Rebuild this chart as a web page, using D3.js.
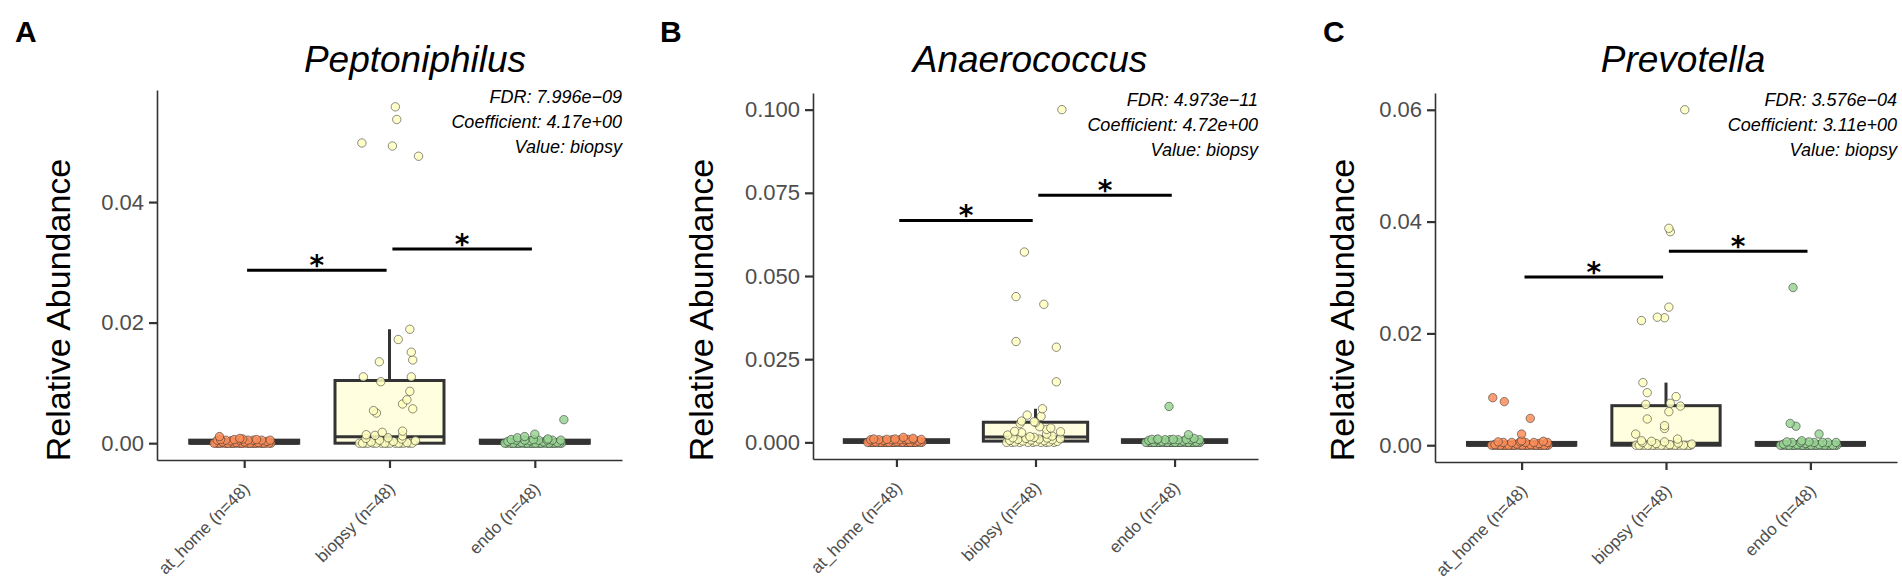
<!DOCTYPE html>
<html>
<head>
<meta charset="utf-8">
<script src="https://cdn.jsdelivr.net/npm/d3@7"></script>
<style>
  body { margin: 0; background: #fff; }
  svg { display: block; font-family: 'Liberation Sans', Arial, Helvetica, sans-serif; }
</style>
</head>
<body>
<svg id="chart" width="1902" height="587"></svg>
<script>
// groups shared by the three panels
const groups      = ['at_home', 'biopsy', 'endo'];
const groupColors = ['#FC8D59', '#FFFFBF', '#99D594'];

// Peptoniphilus relative abundance (48 samples per group)
const peptAtHome = [0.0011, 0.0008, 0.0007, 0.0006, 0.0006, 0.0006, 0.0005, 0.0005, 0.0005, 0.0005,
  0.0005, 0.0005, 0.0005, 0.0004, 0.0003, 0.0002, 0.0002, 0.0001, 0.0001, 0,
  0, 0, 0, 0, 0, 0, 0, 0, 0, 0,
  0, 0, 0, 0, 0, 0, 0, 0, 0, 0,
  0, 0, 0, 0, 0, 0, 0, 0];
const peptBiopsy = [0.0558, 0.0537, 0.0498, 0.0493, 0.0476, 0.0189, 0.0172, 0.0151, 0.0138, 0.0135,
  0.0110, 0.0110, 0.0102, 0.0086, 0.0072, 0.0065, 0.0057, 0.0054, 0.0050, 0.0020,
  0.0018, 0.0014, 0.0013, 0.0012, 0.0009, 0.0008, 0.0007, 0.0005, 0.0004, 0.0003,
  0.0002, 0.0001, 0, 0, 0, 0, 0, 0, 0, 0,
  0, 0, 0, 0, 0, 0, 0, 0];
const peptEndo = [0.0039, 0.0015, 0.0011, 0.0009, 0.0007, 0.0006, 0.0006, 0.0005, 0.0005, 0.0005,
  0.0005, 0.0005, 0.0005, 0.0004, 0.0003, 0.0002, 0.0001, 0.0001, 0, 0,
  0, 0, 0, 0, 0, 0, 0, 0, 0, 0,
  0, 0, 0, 0, 0, 0, 0, 0, 0, 0,
  0, 0, 0, 0, 0, 0, 0, 0];
// horizontal jitter (fraction of a category step)
const peptAtHomeJitter = [-0.17, -0.03];
const peptBiopsyJitter = [0.04, 0.05, -0.19, 0.02, 0.20, 0.14, 0.06, 0.15, 0.16, -0.07,
  -0.18, 0.15, -0.06, 0.14, 0.12, 0.09, 0.16, -0.11, -0.09, 0.09, -0.05, -0.16, -0.10, 0.09];
const peptEndoJitter = [0.20, 0.00, -0.07, -0.12, 0.09];
const peptTicks = [0, 0.02, 0.04];
const peptSigY  = [0.0287, 0.0322];
const peptStats = ['FDR: 7.996e\u221209', 'Coefficient: 4.17e+00', 'Value: biopsy'];

// Anaerococcus
const anaeroAtHome = [0.0015, 0.0012, 0.0010, 0.0010, 0.0009, 0.0009, 0.0009, 0.0008, 0.0008, 0.0008,
  0.0008, 0.0008, 0.0008, 0.0006, 0.0004, 0.0002, 0.0001, 0, 0, 0,
  0, 0, 0, 0, 0, 0, 0, 0, 0, 0,
  0, 0, 0, 0, 0, 0, 0, 0, 0, 0,
  0, 0, 0, 0, 0, 0, 0, 0];
const anaeroBiopsy = [0.1000, 0.0572, 0.0438, 0.0415, 0.0303, 0.0286, 0.0182, 0.0101, 0.0082, 0.0078,
  0.0064, 0.0062, 0.0060, 0.0057, 0.0047, 0.0043, 0.0039, 0.0033, 0.0032, 0.0029,
  0.0025, 0.0022, 0.0019, 0.0017, 0.0015, 0.0014, 0.0013, 0.0012, 0.0011, 0.0010,
  0.0009, 0.0008, 0.0007, 0.0006, 0.0005, 0.0004, 0.0003, 0.0002, 0.0001, 0.0001,
  0, 0, 0, 0, 0, 0, 0, 0];
const anaeroEndo = [0.0108, 0.0023, 0.0012, 0.0010, 0.0009, 0.0009, 0.0009, 0.0008, 0.0008, 0.0008,
  0.0008, 0.0008, 0.0008, 0.0006, 0.0004, 0.0002, 0.0001, 0, 0, 0,
  0, 0, 0, 0, 0, 0, 0, 0, 0, 0,
  0, 0, 0, 0, 0, 0, 0, 0, 0, 0,
  0, 0, 0, 0, 0, 0, 0, 0];
const anaeroAtHomeJitter = [0.05, 0.12];
const anaeroBiopsyJitter = [0.19, -0.08, -0.14, 0.06, -0.14, 0.15, 0.15, 0.05, -0.06, 0.04,
  -0.10, -0.01, 0.00, -0.11, 0.03, 0.11, 0.08, -0.15, 0.18, -0.10, 0.08, -0.20, 0.12, -0.04];
const anaeroEndoJitter = [-0.04, 0.10, 0.14, -0.12];
const anaeroTicks = [0, 0.025, 0.05, 0.075, 0.1];
const anaeroSigY  = [0.0667, 0.0743];
const anaeroStats = ['FDR: 4.973e\u221211', 'Coefficient: 4.72e+00', 'Value: biopsy'];

// Prevotella
const prevoAtHome = [0.0085, 0.0078, 0.0048, 0.0020, 0.0008, 0.0007, 0.0006, 0.0006, 0.0005, 0.0005,
  0.0005, 0.0005, 0.0005, 0.0003, 0.0002, 0.0001, 0.0001, 0, 0, 0,
  0, 0, 0, 0, 0, 0, 0, 0, 0, 0,
  0, 0, 0, 0, 0, 0, 0, 0, 0, 0,
  0, 0, 0, 0, 0, 0, 0, 0];
const prevoBiopsy = [0.0600, 0.0388, 0.0382, 0.0247, 0.0229, 0.0228, 0.0223, 0.0112, 0.0094, 0.0087,
  0.0075, 0.0073, 0.0070, 0.0060, 0.0047, 0.0035, 0.0030, 0.0020, 0.0011, 0.0008,
  0.0007, 0.0006, 0.0005, 0.0004, 0.0003, 0.0002, 0.0001, 0, 0, 0,
  0, 0, 0, 0, 0, 0, 0, 0, 0, 0,
  0, 0, 0, 0, 0, 0, 0, 0];
const prevoEndo = [0.0282, 0.0039, 0.0034, 0.0020, 0.0008, 0.0006, 0.0006, 0.0005, 0.0005, 0.0005,
  0.0005, 0.0005, 0.0005, 0.0003, 0.0002, 0.0001, 0.0001, 0, 0, 0,
  0, 0, 0, 0, 0, 0, 0, 0, 0, 0,
  0, 0, 0, 0, 0, 0, 0, 0, 0, 0,
  0, 0, 0, 0, 0, 0, 0, 0];
const prevoAtHomeJitter = [-0.20, -0.12, 0.06, 0.00, 0.00, 0.15];
const prevoBiopsyJitter = [0.13, 0.02, 0.03, 0.02, -0.06, -0.01, -0.17, -0.16, -0.13, 0.07,
  0.03, -0.14, 0.10, 0.02, -0.13, -0.01, -0.01, -0.21, 0.08, -0.17, -0.10];
const prevoEndoJitter = [-0.12, -0.14, -0.10, 0.06, -0.06];
const prevoTicks = [0, 0.02, 0.04, 0.06];
const prevoSigY  = [0.0301, 0.0347];
const prevoStats = ['FDR: 3.576e\u221204', 'Coefficient: 3.11e+00', 'Value: biopsy'];


class BoxJitterPanel {
  constructor(_config) {
    this.config = {
      parentElement: _config.parentElement,
      left:    _config.left,
      right:   _config.right,
      top:     _config.top,
      bottom:  _config.bottom,
      letter:  _config.letter,
      letterX: _config.letterX,
      title:   _config.title,
      titleX:  _config.titleX,
      yTitleX: _config.yTitleX,
      ticks:   _config.ticks,
      tickFormat: _config.tickFormat,
      series:  _config.series,
      jitter:  _config.jitter,
      sigY:    _config.sigY,
      stats:   _config.stats
    };
    this.initVis();
  }

  initVis() {
    const vis = this;
    const c = vis.config;

    vis.g = d3.select(c.parentElement).append('g');

    // ggplot style 5% expansion around the data
    const maxVal = d3.max(c.series, s => d3.max(s));
    vis.yScale = d3.scaleLinear()
      .domain([-0.05 * maxVal, 1.05 * maxVal])
      .range([c.bottom, c.top]);

    vis.xScale = d3.scalePoint()
      .domain(groups)
      .range([c.left, c.right])
      .padding(0.6);
    vis.step = vis.xScale.step();

    vis.renderAxes();
    vis.renderVis();
    vis.renderText();
  }

  renderAxes() {
    const vis = this;
    const c = vis.config;

    const yAxisG = vis.g.append('g')
      .attr('transform', `translate(${c.left},0)`)
      .call(d3.axisLeft(vis.yScale)
        .tickValues(c.ticks)
        .tickFormat(d3.format(c.tickFormat))
        .tickSize(8)
        .tickSizeOuter(0)
        .tickPadding(5));

    const xAxisG = vis.g.append('g')
      .attr('transform', `translate(0,${c.bottom})`)
      .call(d3.axisBottom(vis.xScale)
        .tickSize(8)
        .tickSizeOuter(0)
        .tickFormat((d, i) => `${d} (n=${c.series[i].length})`));

    [yAxisG, xAxisG].forEach(a => {
      a.select('.domain').attr('stroke', '#333').attr('stroke-width', 1.6);
      a.selectAll('.tick line').attr('stroke', '#333').attr('stroke-width', 2.2);
      a.selectAll('.tick text').attr('fill', '#4d4d4d').style('font-family', null);
    });

    yAxisG.selectAll('.tick text').attr('font-size', 22);

    xAxisG.selectAll('.tick text')
      .attr('font-size', 17)
      .attr('text-anchor', 'end')
      .attr('x', 0)
      .attr('y', 0)
      .attr('dy', '0.75em')
      .attr('transform', 'translate(-3,21) rotate(-45)');
  }

  renderVis() {
    const vis = this;
    const c = vis.config;
    const bw = vis.step * 0.75;

    const stats = c.series.map((vals, i) => {
      const s = vals.slice().sort(d3.ascending);
      const q1 = d3.quantile(s, 0.25);
      const med = d3.quantile(s, 0.5);
      const q3 = d3.quantile(s, 0.75);
      const iqr = q3 - q1;
      const hi = d3.max(s.filter(v => v <= q3 + 1.5 * iqr));
      const lo = d3.min(s.filter(v => v >= q1 - 1.5 * iqr));
      return { group: groups[i], color: groupColors[i], q1, med, q3, hi, lo };
    });

    const boxes = vis.g.selectAll('.box')
      .data(stats)
      .join('g')
      .attr('class', 'box');

    boxes.append('line')
      .attr('x1', d => vis.xScale(d.group))
      .attr('x2', d => vis.xScale(d.group))
      .attr('y1', d => vis.yScale(d.q3))
      .attr('y2', d => vis.yScale(d.hi))
      .attr('stroke', '#333')
      .attr('stroke-width', 3);

    boxes.append('line')
      .attr('x1', d => vis.xScale(d.group))
      .attr('x2', d => vis.xScale(d.group))
      .attr('y1', d => vis.yScale(d.q1))
      .attr('y2', d => vis.yScale(d.lo))
      .attr('stroke', '#333')
      .attr('stroke-width', 3);

    boxes.append('rect')
      .attr('x', d => vis.xScale(d.group) - bw / 2)
      .attr('width', bw)
      .attr('y', d => vis.yScale(d.q3))
      .attr('height', d => vis.yScale(d.q1) - vis.yScale(d.q3))
      .attr('fill', d => d.color)
      .attr('fill-opacity', 0.5)
      .attr('stroke', '#333')
      .attr('stroke-width', 3);

    boxes.append('line')
      .attr('x1', d => vis.xScale(d.group) - bw / 2)
      .attr('x2', d => vis.xScale(d.group) + bw / 2)
      .attr('y1', d => vis.yScale(d.med))
      .attr('y2', d => vis.yScale(d.med))
      .attr('stroke', '#333')
      .attr('stroke-width', 3);

    // jittered points: read offsets first, the rest spread over the jitter width
    const jitterAt = (list, k) => {
      if (k < list.length) return list[k];
      const j = k - list.length;
      return -0.21 + 0.40 * ((j * 0.618034 + 0.5) % 1);
    };

    const points = [];
    c.series.forEach((vals, i) => {
      vals.forEach((v, k) => points.push({
        group: groups[i], color: groupColors[i], value: v, jit: jitterAt(c.jitter[i], k)
      }));
    });
    points.reverse();

    vis.g.selectAll('.pt')
      .data(points)
      .join('circle')
      .attr('class', 'pt')
      .attr('cx', d => vis.xScale(d.group) + d.jit * vis.step)
      .attr('cy', d => vis.yScale(d.value))
      .attr('r', 4.2)
      .attr('fill', d => d.color)
      .attr('fill-opacity', 0.85)
      .attr('stroke', '#333')
      .attr('stroke-opacity', 0.7)
      .attr('stroke-width', 0.8);

    // significance brackets
    const sig = c.sigY.map((y, i) => ({ a: groups[i], b: groups[i + 1], y }));
    const inset = 0.02 * vis.step;

    vis.g.selectAll('.sig')
      .data(sig)
      .join('line')
      .attr('class', 'sig')
      .attr('x1', d => vis.xScale(d.a) + inset)
      .attr('x2', d => vis.xScale(d.b) - inset)
      .attr('y1', d => vis.yScale(d.y))
      .attr('y2', d => vis.yScale(d.y))
      .attr('stroke', '#000')
      .attr('stroke-width', 3);

    vis.g.selectAll('.star')
      .data(sig)
      .join('text')
      .attr('class', 'star')
      .attr('x', d => (vis.xScale(d.a) + vis.xScale(d.b)) / 2)
      .attr('y', d => vis.yScale(d.y) + 5)
      .attr('text-anchor', 'middle')
      .attr('font-family', 'DejaVu Sans')
      .attr('font-weight', 'bold')
      .attr('font-size', 28)
      .text('*');
  }

  renderText() {
    const vis = this;
    const c = vis.config;

    vis.g.append('text')
      .attr('x', c.letterX)
      .attr('y', 41.5)
      .attr('font-size', 30)
      .attr('font-weight', 'bold')
      .text(c.letter);

    vis.g.append('text')
      .attr('x', c.titleX)
      .attr('y', 72)
      .attr('text-anchor', 'middle')
      .attr('font-size', 37)
      .attr('font-style', 'italic')
      .text(c.title);

    vis.g.append('text')
      .attr('transform', `translate(${c.yTitleX},310) rotate(-90)`)
      .attr('text-anchor', 'middle')
      .attr('font-size', 34)
      .text('Relative Abundance');

    vis.g.selectAll('.stat')
      .data(c.stats)
      .join('text')
      .attr('class', 'stat')
      .attr('x', c.right)
      .attr('y', (d, i) => c.top + 13 + i * 25)
      .attr('text-anchor', 'end')
      .attr('font-size', 18)
      .attr('font-style', 'italic')
      .text(d => d);
  }
}

new BoxJitterPanel({
  parentElement: '#chart',
  left: 157, right: 622, top: 90, bottom: 460,
  letter: 'A', letterX: 15,
  title: 'Peptoniphilus', titleX: 415,
  yTitleX: 70,
  ticks: peptTicks, tickFormat: '.2f',
  series: [peptAtHome, peptBiopsy, peptEndo],
  jitter: [peptAtHomeJitter, peptBiopsyJitter, peptEndoJitter],
  sigY: peptSigY,
  stats: peptStats
});

new BoxJitterPanel({
  parentElement: '#chart',
  left: 813, right: 1258, top: 93, bottom: 459,
  letter: 'B', letterX: 660,
  title: 'Anaerococcus', titleX: 1030,
  yTitleX: 713,
  ticks: anaeroTicks, tickFormat: '.3f',
  series: [anaeroAtHome, anaeroBiopsy, anaeroEndo],
  jitter: [anaeroAtHomeJitter, anaeroBiopsyJitter, anaeroEndoJitter],
  sigY: anaeroSigY,
  stats: anaeroStats
});

new BoxJitterPanel({
  parentElement: '#chart',
  left: 1435, right: 1897, top: 93, bottom: 462,
  letter: 'C', letterX: 1323,
  title: 'Prevotella', titleX: 1683,
  yTitleX: 1354,
  ticks: prevoTicks, tickFormat: '.2f',
  series: [prevoAtHome, prevoBiopsy, prevoEndo],
  jitter: [prevoAtHomeJitter, prevoBiopsyJitter, prevoEndoJitter],
  sigY: prevoSigY,
  stats: prevoStats
});
</script>
</body>
</html>
